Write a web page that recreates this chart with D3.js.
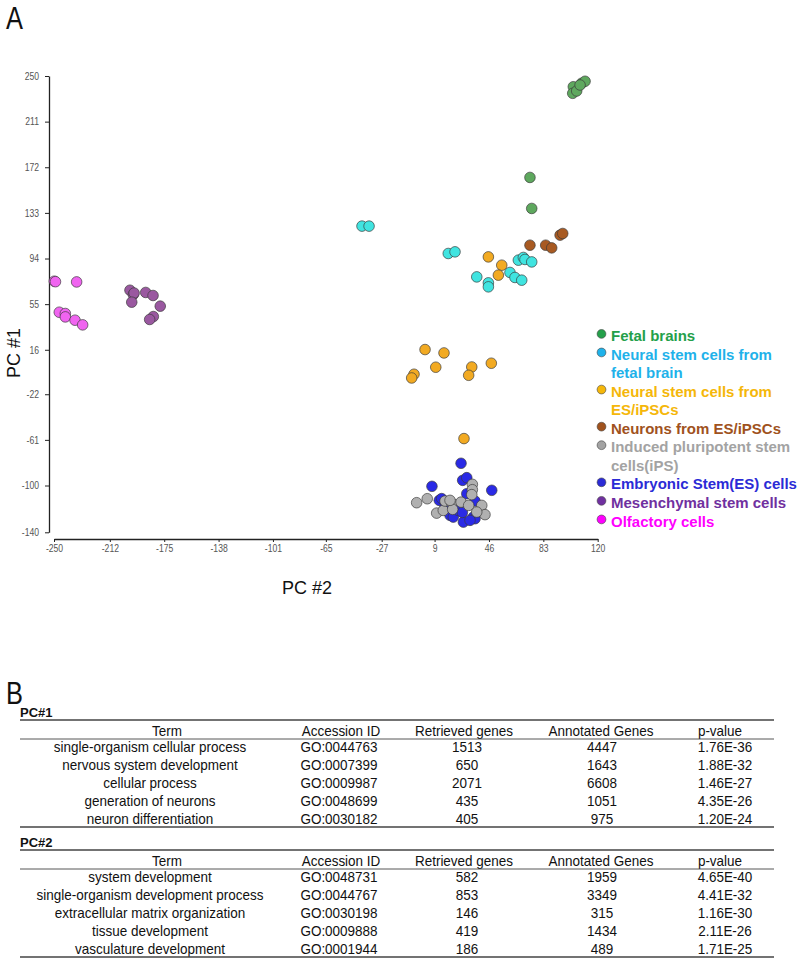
<!DOCTYPE html>
<html>
<head>
<meta charset="utf-8">
<script src="https://cdn.jsdelivr.net/npm/d3@7"></script>
<style>
  html, body { margin: 0; padding: 0; background: #fff; }
  svg { display: block; }
</style>
</head>
<body>
<svg id="chart" width="800" height="958"></svg>
<script>
// ---------------- DATA ----------------
const categories = [
  "Fetal brains",
  "Neural stem cells from fetal brain",
  "Neural stem cells from ES/iPSCs",
  "Neurons from ES/iPSCs",
  "Induced pluripotent stem cells(iPS)",
  "Embryonic Stem(ES) cells",
  "Mesenchymal stem cells",
  "Olfactory cells"
];
const legendLines = [
  ["Fetal brains"],
  ["Neural stem cells from", "fetal brain"],
  ["Neural stem cells from", "ES/iPSCs"],
  ["Neurons from ES/iPSCs"],
  ["Induced pluripotent stem", "cells(iPS)"],
  ["Embryonic Stem(ES) cells"],
  ["Mesenchymal stem cells"],
  ["Olfactory cells"]
];
const pointColors  = ["#5ea85e", "#40e4e0", "#f2aa22", "#a85a22", "#b0b0b0", "#2a2ae6", "#9a58a0", "#f064f0"];
const legendColors = ["#24a04a", "#1fb2ea", "#f5b70a", "#a0521d", "#a3a3a3", "#2b2bd6", "#7030a0", "#ff00ff"];

// [PC#2, PC#1] pairs per group
const fetalBrains = [[103.4,240.8],[103.0,235.2],[105.7,237.2],[109.1,243.8],[111.4,245.5],[108.0,242.3],[73.9,163.3],[75.1,136.8]];
const nscFetal = [[-40.4,121.7],[-35.6,121.7],[18.3,98.3],[22.9,99.7],[37.7,78.3],[45.6,73.2],[45.6,69.8],[60.3,82.1],[63.7,77.8],[68.3,75.5],[66.0,92.6],[69.4,94.9],[70.5,93.2],[75.1,91.1]];
const nscES = [[45.6,95.4],[54.7,88.3],[52.4,79.8],[2.5,16.2],[15.4,13.3],[9.8,1.1],[34.3,1.3],[32.2,-5.8],[47.6,4.5],[-5.0,-4.9],[-6.6,-8.1],[29.0,-59.9]];
const neurons = [[73.9,105.4],[84.6,105.4],[88.7,103.1],[94.4,114.0],[96.2,115.4]];
const ipsCells = [[-3.2,-114.7],[4.0,-111.3],[10.4,-123.6],[14.9,-121.3],[16.1,-113.3],[20.7,-115.0],[21.3,-120.4],[27.0,-114.2],[32.2,-117.0],[34.7,-99.0],[34.7,-103.6],[34.3,-107.8],[41.1,-117.0],[43.3,-124.9],[37.7,-122.7],[19.5,-112.7]];
const esCells = [[27.0,-81.0],[28.1,-95.6],[30.9,-93.3],[7.2,-100.7],[47.9,-104.1],[12.2,-112.7],[13.8,-111.2],[36.5,-113.3],[30.9,-107.0],[19.5,-125.5],[21.7,-127.0],[28.6,-131.3],[35.4,-127.0],[36.5,-128.4],[25.1,-121.3],[16.1,-118.4],[27.9,-123.0],[33.1,-129.8]];
const mesenchymal = [[-198.3,66.9],[-196.0,63.3],[-195.5,64.5],[-197.1,56.7],[-187.6,65.0],[-182.6,62.4],[-177.7,53.3],[-182.4,44.4],[-184.9,41.9]];
const olfactory = [[-249.8,74.6],[-249.0,74.2],[-234.6,74.0],[-246.4,48.1],[-242.3,47.0],[-242.3,44.1],[-235.7,41.3],[-230.5,37.3]];

const seriesValues = [fetalBrains, nscFetal, nscES, neurons, ipsCells, esCells, mesenchymal, olfactory];
const drawOrder = [7, 6, 0, 1, 3, 2, 5, 4];

const xTicks = [-250, -212, -175, -138, -101, -65, -27, 9, 46, 83, 120];
const xTickLabels = ["-250", "-212", "-175", "-138", "-101", "-65", "-27", "9", "46", "83", "120"];
const yTicks = [250, 211, 172, 133, 94, 55, 16, -22, -61, -100, -140];
const yTickLabels = ["250", "211", "172", "133", "94", "55", "16", "-22", "-61", "-100", "-140"];

// Tables
const tableHeaders = ["Term", "Accession ID", "Retrieved genes", "Annotated Genes", "p-value"];
const pc1Terms = ["single-organism cellular process", "nervous system development", "cellular process", "generation of neurons", "neuron differentiation"];
const pc1Ids = ["GO:0044763", "GO:0007399", "GO:0009987", "GO:0048699", "GO:0030182"];
const pc1Retrieved = [1513, 650, 2071, 435, 405];
const pc1Annotated = [4447, 1643, 6608, 1051, 975];
const pc1Pvalues = ["1.76E-36", "1.88E-32", "1.46E-27", "4.35E-26", "1.20E-24"];
const pc2Terms = ["system development", "single-organism development process", "extracellular matrix organization", "tissue development", "vasculature development"];
const pc2Ids = ["GO:0048731", "GO:0044767", "GO:0030198", "GO:0009888", "GO:0001944"];
const pc2Retrieved = [582, 853, 146, 419, 186];
const pc2Annotated = [1959, 3349, 315, 1434, 489];
const pc2Pvalues = ["4.65E-40", "4.41E-32", "1.16E-30", "2.11E-26", "1.71E-25"];

// ---------------- DRAW ----------------
const FONT = "Liberation Sans, Arial, sans-serif";
const NARROW = 0.82;
const TABLE_NARROW = 0.9;
const svg = d3.select("#chart");

function narrowText(parent, px, py, txt, size, anchor, k = NARROW, opts = {}) {
  return parent.append("text")
    .attr("transform", `translate(${px},${py}) scale(${k},1)`)
    .attr("text-anchor", anchor || "start")
    .attr("font-family", FONT).attr("font-size", size)
    .attr("font-weight", opts.weight || "normal")
    .attr("fill", opts.fill || "#111").text(txt);
}

// Panel letters
narrowText(svg, 6, 29, "A", 31, "start");
narrowText(svg, 6, 704, "B", 31, "start");

const x = d3.scaleLinear().domain([-250, 120]).range([54, 597.7]);
const y = d3.scaleLinear().domain([-140, 250]).range([532.3, 76]);

// Axes
const yAxis = svg.append("g").attr("transform", "translate(49,0)")
  .call(d3.axisLeft(y).tickValues(yTicks).tickFormat((d, i) => yTickLabels[i])
    .tickSize(4).tickSizeOuter(0).tickPadding(6));
const xAxis = svg.append("g").attr("transform", "translate(0,539)")
  .call(d3.axisBottom(x).tickValues(xTicks).tickFormat((d, i) => xTickLabels[i])
    .tickSize(3).tickSizeOuter(0).tickPadding(3));
[xAxis, yAxis].forEach(g => {
  g.select(".domain").attr("stroke", "#222").attr("stroke-width", 1.3);
  g.selectAll(".tick line").attr("stroke", "#222").attr("stroke-width", 1);
  g.selectAll(".tick text").attr("font-family", FONT).attr("font-size", 10.5).attr("fill", "#555");
});
yAxis.selectAll(".tick text").attr("x", -10 / NARROW).attr("transform", `scale(${NARROW},1)`);
xAxis.selectAll(".tick text").attr("transform", `scale(${NARROW},1)`);

// Axis titles
svg.append("text").attr("transform", "translate(20,353) rotate(-90)").attr("text-anchor", "middle")
  .attr("font-family", FONT).attr("font-size", 18).attr("fill", "#111").text("PC #1");
svg.append("text").attr("x", 307).attr("y", 594).attr("text-anchor", "middle")
  .attr("font-family", FONT).attr("font-size", 18).attr("fill", "#111").text("PC #2");

// Points
const pts = svg.append("g");
drawOrder.forEach(si => {
  pts.selectAll(null).data(seriesValues[si]).enter().append("circle")
    .attr("cx", d => x(d[0])).attr("cy", d => y(d[1])).attr("r", 5.3)
    .attr("fill", pointColors[si]).attr("stroke", "#3a3a3a").attr("stroke-width", 0.8).attr("stroke-opacity", 0.85);
});

// Legend
const lineStep = 18.55;
let lineIdx = 0;
const leg = svg.append("g");
categories.forEach((c, i) => {
  const y0 = 335.7 + lineIdx * lineStep;
  leg.append("circle").attr("cx", 601.5).attr("cy", y0 - 1.8).attr("r", 4.4)
    .attr("fill", legendColors[i]).attr("stroke", "#444").attr("stroke-width", 0.6);
  legendLines[i].forEach((ln, k) => {
    leg.append("text").attr("x", 611).attr("y", y0 + k * lineStep + 5.3)
      .attr("font-family", FONT).attr("font-weight", "bold")
      .attr("font-size", 15).attr("fill", legendColors[i]).text(ln);
  });
  lineIdx += legendLines[i].length;
});

// Tables
const colX = d3.scaleOrdinal().domain(tableHeaders).range([150, 339, 467, 602, 725]);
const headX = d3.scaleOrdinal().domain(tableHeaders).range([167, 341, 464, 601, 720]);
function drawTable(top, title, cols) {
  const g = svg.append("g");
  const left = 20, right = 774;
  g.append("text").attr("x", left).attr("y", top + 5).attr("font-family", FONT)
    .attr("font-weight", "bold").attr("font-size", 13).attr("fill", "#111").text(title);
  g.append("line").attr("x1", left).attr("x2", right).attr("y1", top + 8).attr("y2", top + 8)
    .attr("stroke", "#444").attr("stroke-width", 1.6);
  tableHeaders.forEach(h => narrowText(g, headX(h), top + 24, h, 15, "middle", TABLE_NARROW));
  g.append("line").attr("x1", left).attr("x2", right).attr("y1", top + 27).attr("y2", top + 27)
    .attr("stroke", "#444").attr("stroke-width", 0.9);
  const rowY = d3.scaleLinear().domain([0, 4]).range([top + 35, top + 107]);
  cols.forEach((col, ci) => {
    col.forEach((v, i) => narrowText(g, colX(tableHeaders[ci]), rowY(i) + 5.3, v, 15, "middle", TABLE_NARROW));
  });
  g.append("line").attr("x1", left).attr("x2", right).attr("y1", top + 115).attr("y2", top + 115)
    .attr("stroke", "#444").attr("stroke-width", 1.6);
}
drawTable(712, "PC#1", [pc1Terms, pc1Ids, pc1Retrieved, pc1Annotated, pc1Pvalues]);
drawTable(842, "PC#2", [pc2Terms, pc2Ids, pc2Retrieved, pc2Annotated, pc2Pvalues]);
</script>
</body>
</html>
